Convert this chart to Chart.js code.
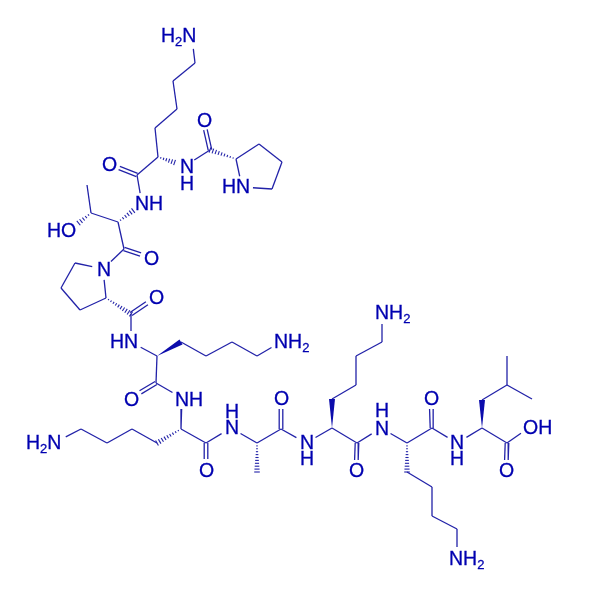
<!DOCTYPE html>
<html>
<head>
<meta charset="utf-8">
<title>Peptide structure</title>
<style>
  html, body { margin: 0; padding: 0; background: #fff; }
  canvas { display: block; }
</style>
<script src="https://cdn.jsdelivr.net/npm/chart.js@4"></script>
</head>
<body>
<canvas id="myChart" width="594" height="594"></canvas>
<script>
// atoms (image coordinates)
const atomX = [192,195,173,177,155,158,137,109,185,210,203,236,259,282,272,242,142,118,91,87,
  70,124,151,103,75,61,80,106,131,156,131,157,181,206,232,257,281,156,131,182,
  181,157,132,107,81,56,206,206,231,257,257,281,281,306,332,332,356,356,382,382,
  357,356,381,407,407,432,432,457,457,432,431,457,482,482,507,507,532,507,506,530];
const atomY = [38,63,81,109,128,157,175,164,166,150,119,159,144,162,189,187,204,222,213,185,
  230,249,258,269,263,288,310,298,314,297,342,356,342,356,342,356,342,383,398,398,
  429,443,429,443,429,442,443,470,428,443,472,429,398,443,428,399,385,356,342,313,
  443,471,428,443,472,487,516,529,558,428,398,443,428,400,385,356,399,443,471,427];
// atoms that carry a label: bonds stop short of them
const labelledAtoms = [0,7,8,10,15,16,20,22,23,29,30,36,38,39,45,47,48,52,53,59,61,62,68,70,71,78,79];

const singleBonds = [[0,1],[1,2],[2,3],[3,4],[4,5],[5,6],[8,9],[11,12],[12,13],[13,14],[14,15],[15,11],
  [6,16],[17,18],[18,19],[17,21],[21,23],[23,24],[24,25],[25,26],[26,27],[27,23],[28,30],[30,31],
  [32,33],[33,34],[34,35],[35,36],[31,37],[37,39],[39,40],[41,42],[42,43],[43,44],[44,45],[40,46],
  [46,48],[48,49],[49,51],[51,53],[53,54],[55,56],[56,57],[57,58],[58,59],[54,60],[60,62],[62,63],
  [64,65],[65,66],[66,67],[67,68],[63,69],[69,71],[71,72],[73,74],[74,75],[74,76],[72,77],[77,79]];
const doubleBonds = [[6,7],[9,10],[21,22],[28,29],[37,38],[46,47],[51,52],[60,61],[69,70],[77,78]];
const wedgeBonds = [[31,32],[54,55],[72,73]];
const hashBonds = [[5,8],[11,9],[17,16],[18,20],[27,28],[40,41],[49,50],[63,64]];

// text, left edge, baseline
const labelTexts = ["H2N","O","N","H","O","HN","NH","HO","O","N","O","HN","NH2","O","NH","H2N","O",
  "H","N","O","N","H","O","NH2","H","N","O","N","H","OH","O","NH2"];
const labelX = [161,102,180,180,197,222,135,47,144,97,149,110,274,124,175,26,199,
  225,225,274,300,300,349,375,375,375,424,450,450,523,499,449];
const labelY = [42,171,173,190,127,193,210,237,265,276,304,348,348,406,406,449,477,
  418,434,405,449,465,477,319,417,435,405,449,465,434,477,565];

const bondColor = "#2222a8";
const textColor = "#0000b0";
const labelFont = "19.5px 'Liberation Sans', Arial, sans-serif";
const subFont = "13px 'Liberation Sans', Arial, sans-serif";

// cut a bond back where it meets a label
function bondEnds(pair) {
  let [a, b] = pair;
  let x1 = atomX[a], y1 = atomY[a], x2 = atomX[b], y2 = atomY[b];
  const len = Math.hypot(x2 - x1, y2 - y1);
  const ux = (x2 - x1) / len, uy = (y2 - y1) / len;
  if (labelledAtoms.includes(a)) { x1 += ux * 11; y1 += uy * 11; }
  if (labelledAtoms.includes(b)) { x2 -= ux * 11; y2 -= uy * 11; }
  return { x1, y1, x2, y2, nx: -uy, ny: ux };
}

function lineDataset(x1, y1, x2, y2) {
  return {
    data: [{ x: x1, y: y1 }, { x: x2, y: y2 }],
    showLine: true,
    borderColor: bondColor,
    borderWidth: 1.3,
    pointRadius: 0
  };
}

const datasets = [];
singleBonds.forEach((pair) => {
  const e = bondEnds(pair);
  datasets.push(lineDataset(e.x1, e.y1, e.x2, e.y2));
});
doubleBonds.forEach((pair) => {
  const e = bondEnds(pair);
  datasets.push(lineDataset(e.x1 + e.nx * 1.8, e.y1 + e.ny * 1.8, e.x2 + e.nx * 1.8, e.y2 + e.ny * 1.8));
  datasets.push(lineDataset(e.x1 - e.nx * 1.8, e.y1 - e.ny * 1.8, e.x2 - e.nx * 1.8, e.y2 - e.ny * 1.8));
});

// wedges, hashes and atom labels
const moleculePlugin = {
  id: "molecule",
  afterDatasetsDraw(chart) {
    const ctx = chart.ctx;
    const px = (v) => chart.scales.x.getPixelForValue(v);
    const py = (v) => chart.scales.y.getPixelForValue(v);
    ctx.save();

    ctx.fillStyle = "#0c0cac";
    wedgeBonds.forEach((pair) => {
      const e = bondEnds(pair);
      ctx.beginPath();
      ctx.moveTo(px(e.x1), py(e.y1));
      ctx.lineTo(px(e.x2 + e.nx * 3), py(e.y2 + e.ny * 3));
      ctx.lineTo(px(e.x2 - e.nx * 3), py(e.y2 - e.ny * 3));
      ctx.closePath();
      ctx.fill();
    });

    ctx.strokeStyle = bondColor;
    ctx.lineWidth = 1.1;
    hashBonds.forEach((pair) => {
      const e = bondEnds(pair);
      const n = Math.max(4, Math.round(Math.hypot(e.x2 - e.x1, e.y2 - e.y1) / 3));
      for (let i = 1; i <= n; i++) {
        const t = i / n;
        const x = e.x1 + (e.x2 - e.x1) * t, y = e.y1 + (e.y2 - e.y1) * t;
        const w = 0.4 + 2.4 * t;
        ctx.beginPath();
        ctx.moveTo(px(x + e.nx * w), py(y + e.ny * w));
        ctx.lineTo(px(x - e.nx * w), py(y - e.ny * w));
        ctx.stroke();
      }
    });

    ctx.fillStyle = textColor;
    ctx.strokeStyle = textColor;
    ctx.lineWidth = 0.3;
    ctx.textAlign = "left";
    ctx.textBaseline = "alphabetic";
    labelTexts.forEach((text, i) => {
      let x = px(labelX[i]);
      const y = py(labelY[i]);
      for (const ch of text) {
        const isSub = ch === "2";
        ctx.font = isSub ? subFont : labelFont;
        ctx.fillText(ch, x, isSub ? y + 4 : y);
        ctx.strokeText(ch, x, isSub ? y + 4 : y);
        x += ctx.measureText(ch).width;
      }
    });
    ctx.restore();
  }
};

new Chart("myChart", {
  type: "scatter",
  data: { datasets: datasets },
  options: {
    responsive: false,
    animation: false,
    devicePixelRatio: 1,
    layout: { padding: 0 },
    plugins: { legend: { display: false }, tooltip: { enabled: false } },
    scales: {
      x: { display: false, min: 0, max: 594 },
      y: { display: false, min: 0, max: 594, reverse: true }
    }
  },
  plugins: [moleculePlugin]
});
</script>
</body>
</html>
